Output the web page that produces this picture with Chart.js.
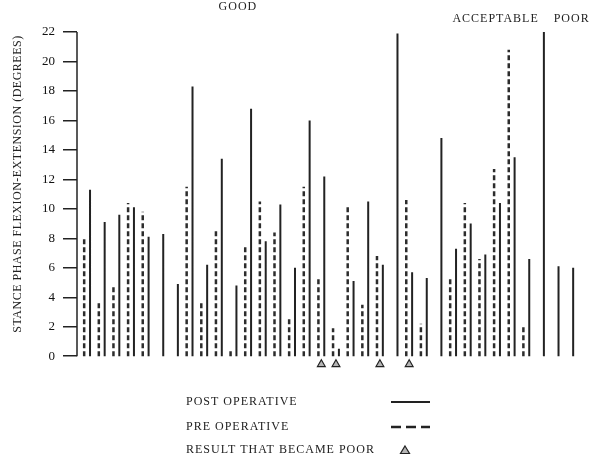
<!DOCTYPE html>
<html>
<head>
<meta charset="utf-8">
<script src="https://cdn.jsdelivr.net/npm/chart.js@4.4.1/dist/chart.umd.min.js"></script>
<style>
  html, body { margin: 0; background: #fff; }
  #wrap { width: 600px; height: 457px; }
</style>
</head>
<body>
<div id="wrap"><canvas id="gait-chart"></canvas></div>
<script>
// patients in the order they are plotted
const patients = [1, 2, 3, 4, 5, 6, 7, 8, 9, 10, 11, 12, 13, 14, 15, 16, 17,
  18, 19, 20, 21, 22, 23, 24, 25, 26, 27, 28, 29, 30, 31, 32, 33, 34];

// stance phase flexion-extension, degrees (null = no pre-op value)
const preOp = [8.0, 3.6, 4.7, 10.4, 9.8, null, null, 11.5, 3.7, 8.5, 0.4, 7.5,
  10.5, 8.4, 2.6, 11.5, 5.4, 1.9, 10.1, 3.5, 6.8, null, 10.6, 2.2, null, 5.4,
  10.4, 6.6, 12.7, 20.8, 2.1, null, null, null];
const postOp = [11.3, 9.1, 9.6, 10.1, 8.1, 8.3, 4.9, 18.3, 6.2, 13.4, 4.8, 16.8,
  7.8, 10.3, 6.0, 16.0, 12.2, 0.5, 5.1, 10.5, 6.2, 21.9, 5.7, 5.3, 14.8, 7.3,
  9.0, 6.9, 10.4, 13.5, 6.6, 22.0, 6.1, 6.0];

// patients whose result later became poor
const becamePoor = [17, 18, 21, 23];

const groupNames = ['GOOD', 'ACCEPTABLE', 'POOR'];
const yTicks = [0, 2, 4, 6, 8, 10, 12, 14, 16, 18, 20, 22];
const yTitle = 'STANCE PHASE FLEXION-EXTENSION (DEGREES)';

const serif = '"Liberation Serif", "DejaVu Serif", serif';
const ink = '#222';

// vertical stem from 0 to the value, broken by a null point
function stems(values, shift) {
  const pts = [];
  values.forEach((v, i) => {
    if (v === null) return;
    const x = patients[i] + shift;
    pts.push({ x: x, y: 0 }, { x: x, y: v }, { x: x, y: null });
  });
  return pts;
}

// where the group names sit, in patient units, and how high
const groupLabelPos = [
  { at: 11.1, y: 7 },
  { at: 28.7, y: 19 },
  { at: 33.9, y: 19 },
];

const extras = {
  id: 'extras',
  afterDraw(chart) {
    const ctx = chart.ctx;
    const xs = chart.scales.x;
    const ys = chart.scales.y;
    ctx.save();
    ctx.fillStyle = ink;
    ctx.strokeStyle = ink;

    // y axis line, only over the tick range
    ctx.lineWidth = 1.5;
    ctx.beginPath();
    ctx.moveTo(chart.chartArea.left, ys.getPixelForValue(yTicks[yTicks.length - 1]));
    ctx.lineTo(chart.chartArea.left, ys.getPixelForValue(0));
    ctx.stroke();

    // y axis title
    ctx.save();
    ctx.translate(18, 184);
    ctx.rotate(-Math.PI / 2);
    ctx.font = '12px ' + serif;
    ctx.letterSpacing = '0.5px';
    ctx.textAlign = 'center';
    ctx.textBaseline = 'middle';
    ctx.fillText(yTitle, 0, 0);
    ctx.restore();

    ctx.font = '12px ' + serif;
    ctx.letterSpacing = '1px';
    ctx.textBaseline = 'middle';

    // group names across the top
    ctx.textAlign = 'center';
    groupNames.forEach((name, i) => {
      ctx.fillText(name, xs.getPixelForValue(groupLabelPos[i].at), groupLabelPos[i].y);
    });

    // legend block under the plot
    const tx = 186, sx0 = 391, sx1 = 430;
    const rows = [402, 427, 450];
    ctx.textAlign = 'left';
    ctx.fillText('POST OPERATIVE', tx, rows[0]);
    ctx.fillText('PRE OPERATIVE', tx, rows[1]);
    ctx.fillText('RESULT THAT BECAME POOR', tx, rows[2]);

    ctx.lineWidth = 2;
    ctx.beginPath();
    ctx.moveTo(sx0, rows[0]);
    ctx.lineTo(sx1, rows[0]);
    ctx.stroke();

    ctx.setLineDash([10, 5]);
    ctx.lineWidth = 2.5;
    ctx.beginPath();
    ctx.moveTo(sx0, rows[1]);
    ctx.lineTo(sx1, rows[1]);
    ctx.stroke();
    ctx.setLineDash([]);

    ctx.lineWidth = 1.2;
    ctx.fillStyle = '#b5b5b5';
    ctx.beginPath();
    ctx.moveTo(405, rows[2] - 4);
    ctx.lineTo(409.5, rows[2] + 3.5);
    ctx.lineTo(400.5, rows[2] + 3.5);
    ctx.closePath();
    ctx.fill();
    ctx.stroke();
    ctx.restore();
  }
};

const ctx = document.getElementById('gait-chart').getContext('2d');
new Chart(ctx, {
  type: 'scatter',
  data: {
    datasets: [
      {
        label: 'Post operative',
        data: stems(postOp, 0),
        showLine: true,
        borderColor: ink,
        borderWidth: 2,
        pointRadius: 0,
        clip: false,
      },
      {
        label: 'Pre operative',
        data: stems(preOp, -0.4),
        showLine: true,
        borderColor: '#2c2c2c',
        borderWidth: 2.5,
        borderDash: [5, 3],
        pointRadius: 0,
        clip: false,
      },
      {
        label: 'Result that became poor',
        data: becamePoor.map((p) => ({ x: p - 0.2, y: -0.55 })),
        pointStyle: 'triangle',
        pointRadius: 4.5,
        backgroundColor: '#b5b5b5',
        borderColor: ink,
        borderWidth: 1.2,
        clip: false,
      },
    ],
  },
  options: {
    responsive: true,
    maintainAspectRatio: false,
    animation: false,
    devicePixelRatio: 1,
    layout: { padding: { left: 0, right: 10, top: 32, bottom: 89 } },
    plugins: {
      legend: { display: false },
      tooltip: { enabled: false },
    },
    scales: {
      x: {
        type: 'linear',
        min: 0.11,
        max: 35.15,
        display: false,
      },
      y: {
        min: -0.8,
        max: 22,
        afterFit: (scale) => { scale.width = 77; },
        afterBuildTicks: (scale) => { scale.ticks = yTicks.map((v) => ({ value: v })); },
        ticks: {
          color: '#111',
          padding: 8,
          font: { family: serif, size: 13 },
        },
        grid: {
          drawOnChartArea: false,
          drawTicks: true,
          tickLength: 14,
          color: ink,
          lineWidth: 1.5,
        },
        border: { display: false },
      },
    },
  },
  plugins: [extras],
});
</script>
</body>
</html>
